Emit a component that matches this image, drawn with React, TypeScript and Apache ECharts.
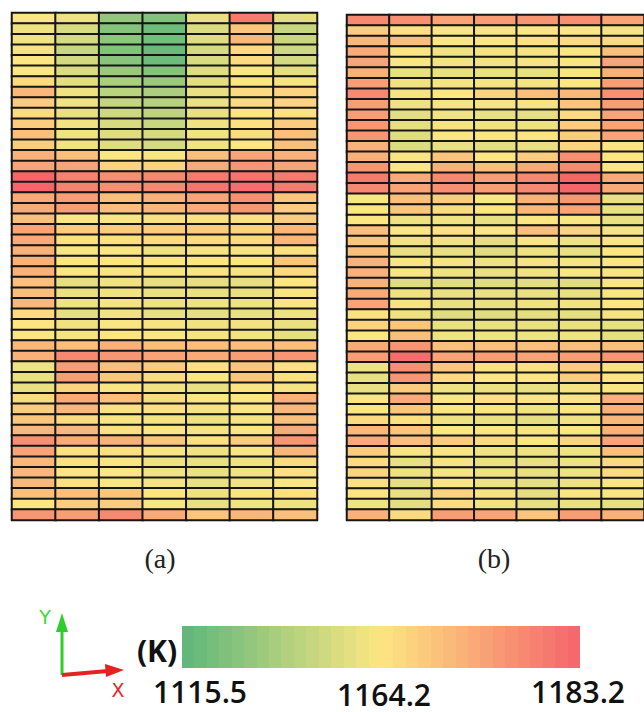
import { useEffect, useRef } from "react";
import * as echarts from "echarts";

const columns = ["1", "2", "3", "4", "5", "6", "7"];
const rows = Array.from({ length: 48 }, (_, i) => String(i + 1));

const scaleMin = 1115.5;
const scaleMid = 1164.2;
const scaleMax = 1183.2;
const tickLabels = ["1115.5", "1164.2", "1183.2"];
const panelLabels = ["(a)", "(b)"];
const unitLabel = "(K)";

const panelA: number[][] = [
  [1164, 1160, 1132, 1127, 1158, 1180, 1156],
  [1160, 1153, 1128, 1121, 1154, 1169, 1148],
  [1161, 1152, 1130, 1122, 1155, 1171, 1149],
  [1162, 1148, 1127, 1119, 1152, 1166, 1150],
  [1164, 1151, 1129, 1121, 1153, 1166, 1152],
  [1164, 1154, 1134, 1128, 1155, 1164, 1157],
  [1166, 1156, 1139, 1134, 1156, 1164, 1162],
  [1171, 1160, 1144, 1140, 1158, 1166, 1167],
  [1168, 1161, 1147, 1143, 1159, 1166, 1167],
  [1166, 1158, 1150, 1145, 1158, 1164, 1165],
  [1168, 1161, 1153, 1148, 1160, 1165, 1168],
  [1170, 1161, 1155, 1152, 1161, 1166, 1170],
  [1168, 1161, 1155, 1152, 1161, 1164, 1170],
  [1172, 1170, 1164, 1163, 1170, 1174, 1172],
  [1174, 1174, 1167, 1167, 1173, 1176, 1174],
  [1183, 1179, 1177, 1178, 1180, 1181, 1180],
  [1183, 1179, 1177, 1178, 1181, 1182, 1180],
  [1173, 1175, 1170, 1172, 1174, 1177, 1169],
  [1173, 1175, 1170, 1171, 1173, 1176, 1168],
  [1170, 1164, 1164, 1165, 1165, 1165, 1168],
  [1174, 1168, 1168, 1168, 1168, 1167, 1171],
  [1173, 1165, 1165, 1166, 1166, 1166, 1171],
  [1172, 1163, 1163, 1160, 1162, 1162, 1165],
  [1172, 1164, 1164, 1164, 1164, 1164, 1169],
  [1172, 1164, 1163, 1163, 1163, 1162, 1166],
  [1170, 1157, 1160, 1157, 1157, 1157, 1164],
  [1170, 1158, 1161, 1159, 1158, 1158, 1163],
  [1171, 1160, 1162, 1160, 1160, 1160, 1163],
  [1166, 1157, 1161, 1158, 1157, 1158, 1160],
  [1164, 1160, 1163, 1162, 1160, 1161, 1158],
  [1163, 1162, 1164, 1163, 1162, 1161, 1157],
  [1171, 1170, 1172, 1170, 1170, 1170, 1170],
  [1172, 1178, 1176, 1174, 1173, 1175, 1176],
  [1160, 1175, 1170, 1168, 1165, 1169, 1165],
  [1158, 1175, 1169, 1166, 1164, 1169, 1165],
  [1158, 1167, 1163, 1161, 1158, 1163, 1162],
  [1166, 1173, 1170, 1166, 1164, 1164, 1172],
  [1168, 1171, 1165, 1165, 1162, 1163, 1171],
  [1169, 1166, 1163, 1162, 1160, 1162, 1170],
  [1171, 1171, 1165, 1164, 1162, 1164, 1173],
  [1177, 1173, 1172, 1169, 1165, 1168, 1176],
  [1174, 1165, 1165, 1163, 1161, 1163, 1171],
  [1171, 1165, 1163, 1160, 1158, 1160, 1166],
  [1171, 1164, 1164, 1161, 1159, 1161, 1165],
  [1171, 1165, 1164, 1162, 1158, 1161, 1164],
  [1170, 1170, 1169, 1164, 1160, 1163, 1165],
  [1164, 1168, 1168, 1163, 1158, 1161, 1160],
  [1176, 1175, 1178, 1173, 1169, 1171, 1170],
];

const panelB: number[][] = [
  [1178, 1177, 1174, 1175, 1176, 1177, 1174],
  [1168, 1165, 1163, 1163, 1164, 1164, 1162],
  [1171, 1170, 1164, 1164, 1165, 1166, 1166],
  [1173, 1164, 1161, 1162, 1162, 1164, 1170],
  [1174, 1163, 1161, 1161, 1162, 1163, 1174],
  [1172, 1158, 1158, 1159, 1158, 1163, 1172],
  [1175, 1161, 1162, 1162, 1162, 1164, 1175],
  [1178, 1162, 1164, 1167, 1170, 1171, 1177],
  [1175, 1160, 1162, 1162, 1162, 1169, 1175],
  [1175, 1156, 1161, 1158, 1157, 1166, 1174],
  [1176, 1157, 1162, 1160, 1160, 1168, 1174],
  [1176, 1155, 1163, 1163, 1163, 1168, 1174],
  [1172, 1154, 1158, 1156, 1158, 1167, 1164],
  [1172, 1163, 1169, 1164, 1168, 1177, 1164],
  [1176, 1164, 1172, 1170, 1173, 1178, 1164],
  [1180, 1173, 1178, 1175, 1178, 1183, 1173],
  [1178, 1174, 1177, 1175, 1178, 1183, 1173],
  [1164, 1170, 1168, 1164, 1172, 1176, 1158],
  [1164, 1169, 1166, 1164, 1171, 1174, 1158],
  [1164, 1160, 1161, 1158, 1164, 1164, 1158],
  [1170, 1164, 1165, 1164, 1170, 1167, 1162],
  [1169, 1161, 1161, 1157, 1163, 1160, 1163],
  [1170, 1158, 1158, 1155, 1160, 1158, 1164],
  [1172, 1163, 1162, 1160, 1162, 1162, 1164],
  [1172, 1163, 1160, 1158, 1161, 1163, 1163],
  [1172, 1155, 1155, 1155, 1156, 1155, 1163],
  [1173, 1160, 1158, 1158, 1158, 1158, 1163],
  [1174, 1162, 1158, 1158, 1160, 1161, 1164],
  [1165, 1160, 1155, 1155, 1157, 1157, 1162],
  [1167, 1169, 1158, 1158, 1158, 1159, 1158],
  [1164, 1170, 1160, 1160, 1160, 1161, 1157],
  [1173, 1176, 1170, 1170, 1170, 1170, 1170],
  [1175, 1182, 1174, 1175, 1174, 1175, 1176],
  [1160, 1177, 1169, 1165, 1165, 1168, 1165],
  [1158, 1176, 1166, 1164, 1164, 1168, 1164],
  [1158, 1168, 1160, 1159, 1158, 1162, 1163],
  [1164, 1173, 1164, 1165, 1163, 1163, 1172],
  [1164, 1169, 1164, 1163, 1161, 1163, 1172],
  [1166, 1165, 1160, 1159, 1157, 1161, 1171],
  [1171, 1169, 1164, 1164, 1162, 1164, 1172],
  [1173, 1170, 1168, 1166, 1164, 1167, 1174],
  [1168, 1163, 1163, 1161, 1160, 1161, 1170],
  [1166, 1158, 1162, 1159, 1158, 1160, 1166],
  [1167, 1160, 1162, 1160, 1158, 1160, 1166],
  [1165, 1157, 1163, 1160, 1157, 1160, 1164],
  [1164, 1158, 1167, 1162, 1157, 1163, 1163],
  [1160, 1156, 1166, 1161, 1157, 1159, 1158],
  [1172, 1166, 1175, 1174, 1169, 1175, 1172],
];

// colour ramp: green -> yellow (at mid label) -> red
const rampGreen = [92, 183, 122];
const rampYellow = [253, 230, 130];
const rampRed = [245, 101, 107];

function rampColor(t: number): string {
  const tt = Math.max(0, Math.min(1, t));
  const a = tt < 0.5 ? rampGreen : rampYellow;
  const b = tt < 0.5 ? rampYellow : rampRed;
  const u = tt < 0.5 ? tt / 0.5 : (tt - 0.5) / 0.5;
  const c = a.map((v, i) => Math.round(v + (b[i] - v) * u));
  return `rgb(${c[0]},${c[1]},${c[2]})`;
}
function valueToT(v: number): number {
  return v <= scaleMid
    ? (0.5 * (v - scaleMin)) / (scaleMid - scaleMin)
    : 0.5 + (0.5 * (v - scaleMid)) / (scaleMax - scaleMid);
}
const mapColors = Array.from({ length: 121 }, (_, i) =>
  rampColor(valueToT(scaleMin + (i * (scaleMax - scaleMin)) / 120))
);

function toCells(m: number[][]) {
  const out: [number, number, number][] = [];
  m.forEach((row, r) => row.forEach((v, c) => out.push([c, r, v])));
  return out;
}

export default function App() {
  const ref = useRef<HTMLDivElement>(null);
  useEffect(() => {
    if (!ref.current) return;
    const chart = echarts.init(ref.current, undefined, { renderer: "svg" });

    const bands = 32;
    const stops: { offset: number; color: string }[] = [];
    for (let i = 0; i < bands; i++) {
      const col = rampColor((i + 0.5) / bands);
      stops.push({ offset: i / bands, color: col });
      stops.push({ offset: (i + 1) / bands, color: col });
    }

    const cellStyle = { borderColor: "#161616", borderWidth: 2 };
    const tickStyle = { fontSize: 30, fontWeight: 600, fontFamily: "Open Sans", fill: "#111", align: "center", verticalAlign: "middle", lineHeight: 24 };
    const panelStyle = { fontSize: 28, fontFamily: "Liberation Serif", fill: "#222", align: "center", verticalAlign: "middle" };

    chart.setOption({
      animation: false,
      backgroundColor: "#ffffff",
      grid: [
        { left: 12, top: 13, width: 305, height: 507, show: true, borderColor: "#555", borderWidth: 2, backgroundColor: "transparent" },
        { left: 347, top: 15, width: 305, height: 505, show: true, borderColor: "#555", borderWidth: 2, backgroundColor: "transparent" },
      ],
      xAxis: [
        { type: "category", data: columns, gridIndex: 0, show: false },
        { type: "category", data: columns, gridIndex: 1, show: false },
      ],
      yAxis: [
        { type: "category", data: rows, gridIndex: 0, inverse: true, show: false },
        { type: "category", data: rows, gridIndex: 1, inverse: true, show: false },
      ],
      visualMap: {
        type: "continuous",
        show: false,
        min: scaleMin,
        max: scaleMax,
        seriesIndex: [0, 1],
        inRange: { color: mapColors },
      },
      series: [
        { type: "heatmap", xAxisIndex: 0, yAxisIndex: 0, data: toCells(panelA), itemStyle: cellStyle, emphasis: { disabled: true } },
        { type: "heatmap", xAxisIndex: 1, yAxisIndex: 1, data: toCells(panelB), itemStyle: cellStyle, emphasis: { disabled: true } },
      ],
      graphic: [
        { type: "text", x: 160, y: 558, style: { text: panelLabels[0], ...panelStyle } },
        { type: "text", x: 494, y: 558, style: { text: panelLabels[1], ...panelStyle } },
        { type: "rect", shape: { x: 182, y: 626, width: 398, height: 42 }, style: { fill: new echarts.graphic.LinearGradient(0, 0, 1, 0, stops) } },
        { type: "text", x: 157, y: 650, style: { text: unitLabel, fontSize: 30, fontWeight: "bold", fontFamily: "Open Sans", fill: "#111", align: "center", verticalAlign: "middle" } },
        { type: "text", x: 200, y: 691, style: { text: tickLabels[0], ...tickStyle } },
        { type: "text", x: 384, y: 694, style: { text: tickLabels[1], ...tickStyle } },
        { type: "text", x: 578, y: 691, style: { text: tickLabels[2], ...tickStyle } },
        // axis triad
        { type: "line", shape: { x1: 62, y1: 675, x2: 62, y2: 628 }, style: { stroke: "#2ccd2c", lineWidth: 3 } },
        { type: "polygon", shape: { points: [[56, 632], [62, 613], [68, 632]] }, style: { fill: "#2ccd2c" } },
        { type: "text", x: 45, y: 617, style: { text: "Y", fontSize: 19, fontFamily: "DejaVu Sans", fill: "#33dd33", align: "center", verticalAlign: "middle" } },
        { type: "line", shape: { x1: 62, y1: 675, x2: 108, y2: 671 }, style: { stroke: "#e32222", lineWidth: 4 } },
        { type: "polygon", shape: { points: [[105, 664], [124, 670], [106, 677]] }, style: { fill: "#e32222" } },
        { type: "text", x: 118, y: 690, style: { text: "X", fontSize: 19, fontFamily: "DejaVu Sans", fill: "#ee2222", align: "center", verticalAlign: "middle" } },
      ],
    });
    return () => chart.dispose();
  }, []);
  return <div ref={ref} style={{ position: "fixed", left: 0, top: 0, width: 644, height: 712 }} />;
}
